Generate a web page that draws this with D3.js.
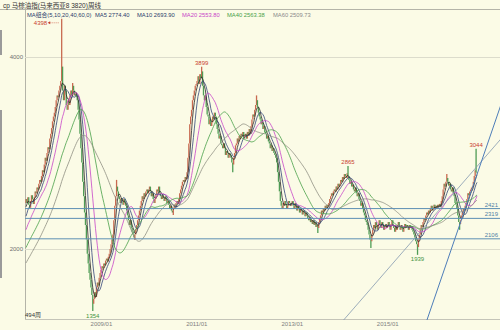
<!DOCTYPE html>
<html>
<head>
<meta charset="utf-8">
<script src="https://cdn.jsdelivr.net/npm/d3@7.9.0/dist/d3.min.js"></script>
<style>
  html, body { margin: 0; padding: 0; background: #fbfbe6; }
  svg { display: block; font-family: "Liberation Sans", "Noto Sans CJK SC", sans-serif; }
</style>
</head>
<body>
<svg id="chart" width="500" height="330"></svg>
<script>
// weekly closes, one array per calendar year (first week ends 2007-06-08)
const close2007 = [2520,2480,2540,2460,2430,2500,2560,2520,2470,2540,2600,2580,2640,2620,2680,2720,2700,2760,2820,2800,2880,2950,2920,3000,3060,3040,3150,3200,3260,3330];
const close2008 = [3380,3420,3480,3550,3600,3580,3650,3700,3750,3900,3650,3550,3700,3650,3500,3450,3550,3500,3600,3650,3600,3700,3650,3600,3620,3580,3550,3450,3350,3200,3050,2900,2700,2550,2380,2250,2100,1950,1850,1750,1680,1600,1520,1430,1480,1550,1500,1600,1650,1620,1700,1750];
const close2009 = [1780,1820,1800,1850,1830,1880,1900,1870,1920,1950,2000,2050,2100,2150,2300,2450,2550,2650,2600,2550,2520,2480,2530,2500,2460,2520,2480,2450,2400,2350,2300,2250,2300,2220,2180,2150,2120,2150,2200,2250,2300,2350,2400,2450,2500,2550,2520,2580,2550,2600,2620,2580];
const close2010 = [2620,2650,2600,2550,2580,2520,2480,2520,2570,2620,2600,2650,2580,2550,2520,2560,2530,2500,2550,2520,2480,2500,2460,2420,2450,2400,2380,2420,2460,2440,2480,2500,2470,2520,2580,2620,2660,2700,2720,2700,2750,2730,2800,2950,3100,3300,3380,3450,3550,3600,3650,3700,3720];
const close2011 = [3750,3800,3720,3820,3780,3850,3700,3600,3550,3600,3480,3400,3380,3300,3350,3280,3320,3380,3350,3420,3380,3300,3250,3200,3150,3180,3100,3080,3050,3100,3050,2980,3020,3000,2950,3000,2980,2950,2900,2880,2950,3000,3080,3100,3150,3120,3180,3150,3200,3180,3220,3150];
const close2012 = [3180,3200,3150,3220,3180,3250,3200,3280,3350,3400,3380,3450,3500,3550,3480,3420,3380,3350,3300,3320,3250,3280,3220,3200,3150,3180,3120,3100,3050,3080,3020,3050,3000,2980,2950,2900,2800,2700,2600,2500,2450,2420,2480,2450,2500,2470,2420,2450,2500,2480,2450,2480];
const close2013 = [2500,2450,2420,2480,2440,2400,2450,2420,2380,2420,2400,2360,2400,2380,2340,2380,2350,2320,2300,2330,2280,2300,2260,2300,2250,2280,2230,2250,2220,2280,2320,2350,2400,2380,2420,2400,2450,2420,2460,2440,2480,2520,2550,2580,2560,2600,2620,2600,2650,2620,2680,2650];
const close2014 = [2680,2720,2700,2750,2730,2780,2760,2740,2790,2760,2720,2680,2700,2650,2670,2620,2600,2640,2580,2550,2580,2520,2500,2450,2480,2420,2380,2350,2300,2280,2250,2200,2150,2100,2080,2150,2200,2250,2220,2280,2250,2200,2260,2300,2250,2220,2280,2250,2200,2230,2260,2220];
const close2015 = [2250,2280,2230,2200,2260,2300,2250,2220,2180,2240,2200,2250,2280,2230,2200,2250,2220,2180,2230,2260,2220,2250,2230,2200,2250,2220,2240,2200,2180,2150,2120,2080,2050,2020,2100,2150,2200,2250,2230,2280,2320,2300,2350,2380,2360,2400,2380,2420,2450,2400,2430,2460];
const close2016 = [2420,2450,2430,2460,2440,2470,2440,2500,2550,2620,2680,2650,2700,2740,2700,2660,2680,2620,2600,2640,2580,2550,2480,2460,2420,2350,2280,2260,2300,2350,2380,2420,2400,2450,2480,2520,2580,2560,2600,2620,2640,2650,2700,2760,2820,2800,2790];

// the 59 weeks before the window: only used to start the moving averages
const warmup = [1450,1470,1460,1490,1480,1500,1510,1490,1520,1540,1530,1550,1560,1540,1570,1580,1600,1590,1620,1650,
  1680,1700,1720,1750,1740,1770,1800,1790,1820,1850,1830,1860,1880,1870,1900,1920,1890,1910,1930,1950,
  1980,2000,2020,2050,2030,2080,2100,2080,2120,2150,2180,2200,2250,2280,2300,2350,2400,2450,2480];

// wick extremes: [week index, price, labelled]
const wickHighs = [[39, 4398, true], [51, 3730], [99, 2720], [192, 3899, true], [252, 3600], [352, 2865, true], [460, 2780], [492, 3044, true]];
const wickLows = [[73, 1354, true], [119, 2094], [161, 2354], [226, 2800], [319, 2166], [377, 2010], [428, 1939, true], [474, 2200]];

const maPeriods = [5, 10, 20, 40, 60];
const maLast = [2774.40, 2693.90, 2553.80, 2563.38, 2509.73];
const supports = [2421, 2319, 2106];
const trendA = [['2014-02-14', 1280], ['2016-11-18', 2860]];
const trendB = [['2015-11-06', 1280], ['2016-11-18', 2777]];
const xTicks = ['2009-01-01', '2011-01-01', '2013-01-01', '2015-01-01'];
const yTicks = [2000, 4000];
const title = 'cp 马棕油指(马来西亚8 3820)周线';

const parse = d3.timeParse('%Y-%m-%d');
const start = parse('2007-06-08');
const closes = [].concat(close2007, close2008, close2009, close2010, close2011, close2012, close2013, close2014, close2015, close2016);

const weeks = closes.map((c, i) => {
  const open = i === 0 ? warmup[warmup.length - 1] : closes[i - 1];
  return { date: d3.timeDay.offset(start, 7 * i), open, close: c, high: Math.max(open, c), low: Math.min(open, c) };
});
wickHighs.forEach(([i, v]) => { weeks[i].high = Math.max(weeks[i].high, v); });
wickLows.forEach(([i, v]) => { weeks[i].low = Math.min(weeks[i].low, v); });

const plot = { left: 25, top: 10, right: 500, bottom: 320 };
const x = d3.scaleTime().domain([weeks[0].date, weeks[weeks.length - 1].date]).range([26, 477]);
const y = d3.scaleLinear().domain([2000, 4000]).range([249, 57]);

const upColor = '#c86a50';
const downColor = '#4f9c55';
const maColors = ['#262626', '#34457a', '#c845c8', '#48a048', '#8e8e82'];
const legendColors = ['#2b3b6b', '#2b3b6b', '#c845c8', '#48a048', '#8a8a8a'];

const svg = d3.select('#chart');
svg.append('rect').attr('width', 500).attr('height', 330).attr('fill', '#fbfbe6');

svg.append('clipPath').attr('id', 'clip').append('rect')
  .attr('x', plot.left).attr('y', plot.top)
  .attr('width', plot.right - plot.left).attr('height', plot.bottom - plot.top);

// frame
svg.append('line').attr('x1', 0).attr('x2', 500).attr('y1', 9.5).attr('y2', 9.5).attr('stroke', '#b4b4a8');
svg.append('line').attr('x1', 25.5).attr('x2', 25.5).attr('y1', 9.5).attr('y2', plot.bottom).attr('stroke', '#b4b4a8');
svg.append('line').attr('x1', plot.left).attr('x2', 500).attr('y1', plot.bottom - 0.5).attr('y2', plot.bottom - 0.5).attr('stroke', '#c4c4b8');
svg.append('line').attr('x1', 1).attr('x2', 1).attr('y1', 30).attr('y2', 55).attr('stroke', '#9a9a9a').attr('stroke-width', 2);
svg.append('line').attr('x1', 1).attr('x2', 1).attr('y1', 110).attr('y2', 278).attr('stroke', '#9a9a9a').attr('stroke-width', 2);

// grid lines
svg.append('g').selectAll('line').data(yTicks).join('line')
  .attr('x1', plot.left).attr('x2', plot.right)
  .attr('y1', d => Math.round(y(d)) + 0.5).attr('y2', d => Math.round(y(d)) + 0.5)
  .attr('stroke', '#dcdccc');

// axes
const yAxis = svg.append('g').attr('transform', `translate(${plot.left},0)`)
  .call(d3.axisLeft(y).tickValues(yTicks).tickSize(0).tickPadding(2).tickFormat(d3.format('d')));
yAxis.select('.domain').remove();
yAxis.attr('font-size', 6).attr('font-family', null);
yAxis.selectAll('text').attr('fill', '#707070');

const xAxis = svg.append('g').attr('transform', `translate(0,${plot.bottom})`)
  .call(d3.axisBottom(x).tickValues(xTicks.map(parse)).tickSize(0).tickPadding(2).tickFormat(d3.timeFormat('%Y/%m')));
xAxis.select('.domain').remove();
xAxis.attr('font-size', 6).attr('font-family', null);
xAxis.selectAll('text').attr('fill', '#808080');

const inner = svg.append('g').attr('clip-path', 'url(#clip)');

// candles
inner.append('g').selectAll('line').data(weeks).join('line')
  .attr('x1', d => x(d.date)).attr('x2', d => x(d.date))
  .attr('y1', d => y(d.high)).attr('y2', d => y(d.low))
  .attr('stroke', d => d.close >= d.open ? upColor : downColor)
  .attr('stroke-width', 1.3);

// moving averages
const all = warmup.concat(closes);
const line = d3.line().x(d => x(d.date)).y(d => y(d.v));
maPeriods.forEach((n, k) => {
  const series = weeks.map((w, i) => {
    const end = i + warmup.length;
    return { date: w.date, v: d3.mean(all.slice(end - n + 1, end + 1)) };
  });
  inner.append('path').datum(series)
    .attr('d', line).attr('fill', 'none')
    .attr('stroke', maColors[k]).attr('stroke-width', 0.8);
});

// support lines
inner.append('g').selectAll('line').data(supports).join('line')
  .attr('x1', plot.left).attr('x2', plot.right)
  .attr('y1', d => y(d)).attr('y2', d => y(d))
  .attr('stroke', '#5d8fb4').attr('stroke-width', 1);
svg.append('g').selectAll('text').data(supports).join('text')
  .attr('x', 498).attr('y', d => y(d) - 2)
  .attr('text-anchor', 'end').attr('font-size', 6).attr('fill', '#4f7fa5')
  .text(d => d);

// trend lines, extended across the plot
[[trendA, '#8499b0', 0.8], [trendB, '#4d7db8', 1]].forEach(([pts, color, width]) => {
  const [x1, y1] = [x(parse(pts[0][0])), y(pts[0][1])];
  const [x2, y2] = [x(parse(pts[1][0])), y(pts[1][1])];
  const at = t => [x1 + (x2 - x1) * t, y1 + (y2 - y1) * t];
  const [a, b] = [at(-0.3), at(2.5)];
  inner.append('line')
    .attr('x1', a[0]).attr('y1', a[1]).attr('x2', b[0]).attr('y2', b[1])
    .attr('stroke', color).attr('stroke-width', width);
});

// extreme labels
const red = '#c8402e';
const green = '#3f9440';
wickHighs.filter(d => d[2]).forEach(([i, v]) => {
  const cx = x(weeks[i].date);
  const cy = y(v);
  if (cy - 8 < plot.top + 12) {
    // no room above the wick (legend row): label to the left with an arrow
    svg.append('text').attr('x', cx - 14.5).attr('y', cy + 6)
      .attr('text-anchor', 'end').attr('font-size', 6).attr('fill', red).text(v);
    svg.append('line').attr('x1', cx - 12).attr('x2', cx - 2).attr('y1', cy + 4).attr('y2', cy + 4)
      .attr('stroke', red).attr('stroke-width', 0.6).attr('stroke-dasharray', '1,1');
    svg.append('path').attr('d', `M${cx - 14},${cy + 4}l2.5,-1.5v3z`).attr('fill', red);
  } else {
    svg.append('text').attr('x', cx).attr('y', cy - 2)
      .attr('text-anchor', 'middle').attr('font-size', 6).attr('fill', red).text(v);
  }
});
wickLows.filter(d => d[2]).forEach(([i, v]) => {
  svg.append('text').attr('x', x(weeks[i].date)).attr('y', y(v) + 6.5)
    .attr('text-anchor', 'middle').attr('font-size', 6).attr('fill', green).text(v);
});

// title and legend
svg.append('text').attr('x', 3).attr('y', 7.5).attr('font-size', 6.5).attr('fill', '#333').text(title);
const legendX = [95, 137, 182, 227, 273];
svg.append('text').attr('x', 27).attr('y', 16.5).attr('font-size', 5.8).attr('fill', '#2b3b6b')
  .text(`MA组合(${maPeriods.join(',')},0)`);
maPeriods.forEach((n, k) => {
  svg.append('text').attr('x', legendX[k]).attr('y', 16.5).attr('font-size', 5.8)
    .attr('fill', legendColors[k]).text(`MA${n} ${maLast[k].toFixed(2)}`);
});

svg.append('text').attr('x', 25).attr('y', 316.5).attr('font-size', 6).attr('fill', '#333')
  .text(`${weeks.length}周`);
</script>
</body>
</html>
